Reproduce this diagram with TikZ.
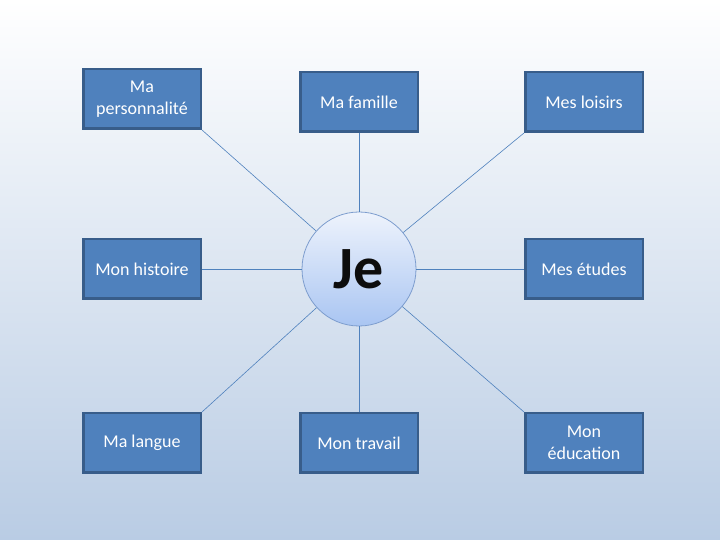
\documentclass[tikz,border=0pt]{standalone}
\usepackage{fontspec}
\setmainfont{Carlito}
\definecolor{boxfill}{HTML}{4F81BD}
\definecolor{boxline}{HTML}{385D8A}
\definecolor{linkblue}{HTML}{4F81BD}
\definecolor{bgbottom}{HTML}{B9CCE4}
\definecolor{jetop}{HTML}{EEF3FC}
\definecolor{jebottom}{HTML}{A9C5F2}
\definecolor{jeline}{HTML}{7D9DCE}

\begin{document}
\begin{tikzpicture}[
		x=1pt, y=1pt,
		topic/.style={rectangle, draw=boxline, line width=2.5pt, fill=boxfill, text=white, minimum width=117.5pt, minimum height=59.5pt, align=center, font=\fontsize{18}{22}\selectfont},
		link/.style={draw=linkblue, line width=0.6pt}
		]
		
		% Background
		\shade[top color=white, bottom color=bgbottom] (0,0) rectangle (720,540);
		\useasboundingbox (0,0) rectangle (720,540);
		
		% Centre
		\node[circle, draw=jeline, line width=0.8pt, top color=jetop, bottom color=jebottom, minimum size=114pt, text=black!95, font=\fontsize{60}{60}\selectfont\bfseries] (je) at (359,271) {Je};
		
		% Topics around the centre
		\foreach \name/\x/\y/\label in {
			perso/142/441/{Ma\\personnalité},
			famille/359/438/{Ma famille},
			loisirs/584/438/{Mes loisirs},
			histoire/142/271/{Mon histoire},
			etudes/584/271/{Mes études},
			langue/142/97/{Ma langue},
			travail/359/97/{Mon travail},
			education/584/97/{Mon\\éducation}}
		\node[topic] (\name) at (\x,\y) {\label};
		
		% Links to the centre
		\draw[link] (perso.south east) -- (je);
		\draw[link] (famille) -- (je);
		\draw[link] (loisirs.south west) -- (je);
		\draw[link] (histoire) -- (je);
		\draw[link] (etudes) -- (je);
		\draw[link] (langue.north east) -- (je);
		\draw[link] (travail) -- (je);
		\draw[link] (education.north west) -- (je);
		
	\end{tikzpicture}
\end{document}
